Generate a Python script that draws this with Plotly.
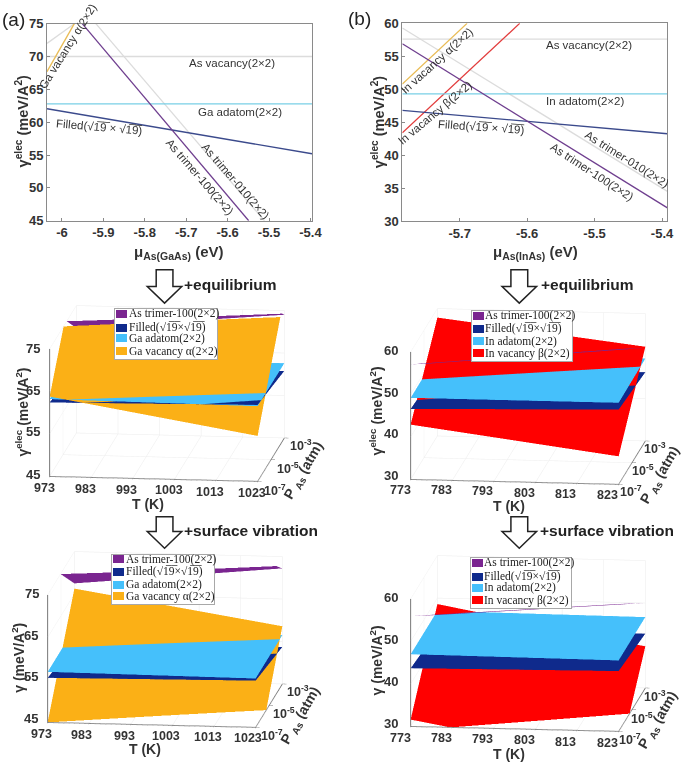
import plotly.graph_objects as go

W, H = 685, 769
# ---------- top line charts ----------
mu_a_gold = [-6.036, -5.97]; e_a_gold = [67.7, 75]
mu_a_g1 = [-6.036, -5.97]; e_a_g1 = [72, 75]
mu_a_trim100 = [-5.951, -5.549]; e_a_trim100 = [75, 45]
mu_a_trim010 = [-5.918, -5.511]; e_a_trim010 = [75, 45]
mu_a_span = [-6.036, -5.396]
e_a_vac = [70, 70]; e_a_adatom = [62.8, 62.8]; e_a_filled = [62.05, 55.2]

mu_b_gold = [-5.785, -5.689]; e_b_gold = [50.8, 60]
mu_b_red = [-5.785, -5.611]; e_b_red = [43.4, 60]
mu_b_span = [-5.785, -5.392]
e_b_trim010 = [59.3, 34.5]; e_b_trim100 = [56.9, 32]
e_b_vac = [57.6, 57.6]; e_b_adatom = [49.3, 49.3]; e_b_filled = [46.8, 43.25]

xt_a = [-6, -5.9, -5.8, -5.7, -5.6, -5.5, -5.4]
xl_a = ["-6", "-5.9", "-5.8", "-5.7", "-5.6", "-5.5", "-5.4"]
yt_a = [45, 50, 55, 60, 65, 70, 75]
xt_b = [-5.7, -5.6, -5.5, -5.4]
xl_b = ["-5.7", "-5.6", "-5.5", "-5.4"]
yt_b = [30, 35, 40, 45, 50, 55, 60]

# ---------- 3D planes: z = [[(Tmin,Pmin),(Tmax,Pmin)],[(Tmin,Pmax),(Tmax,Pmax)]] ----------
logP = [-7, -3]
T_a = [973, 1023]; T_b = [773, 823]
a1_purple = [[84.4, 88.0], [69.7, 74.0]]
a1_navy = [[62.4, 63.0], [60.3, 60.8]]
a1_sky = [[63.2, 62.7], [63.0, 62.6]]
a1_gold = [[63.8, 55.7], [85.3, 78.4]]
a2_purple = [[82.0, 85.0], [67.5, 72.2]]
a2_navy = [[55.5, 56.0], [53.2, 53.7]]
a2_sky = [[56.9, 56.5], [56.9, 56.5]]
a2_gold = [[45.0, 36.0], [66.3, 58.6]]
b1_purple = [[57.1, 61.9], [47.1, 51.9]]
b1_navy = [[46.6, 47.6], [45.5, 46.2]]
b1_sky = [[49.2, 49.2], [49.3, 49.4]]
b1_red = [[42.9, 36.6], [57.9, 52.2]]
b2_purple = [[56.0, 60.0], [46.0, 50.0]]
b2_navy = [[43.7, 44.2], [42.3, 42.8]]
b2_sky = [[47.0, 46.7], [47.0, 46.7]]
b2_red = [[31.6, 23.2], [48.6, 39.8]]

T_ticks_a = [973, 983, 993, 1003, 1013, 1023]
T_ticks_b = [773, 783, 793, 803, 813, 823]
P_ticks = [-7, -5, -3]
P_labels = ["10<sup>-7</sup>", "10<sup>-5</sup>", "10<sup>-3</sup>"]
z_ticks_a = [45, 55, 65, 75]
z_ticks_b = [30, 40, 50, 60]

C_PURPLE, C_NAVY, C_SKY, C_GOLD, C_RED = "#7a2590", "#0f2a8c", "#45c0fb", "#fbb016", "#ff0000"
ROOT = "\u221a1\u03059\u0305"
TXT = "#333333"
SANS = "Liberation Sans"
SERIF = "Liberation Serif"

fig = go.Figure()
ann = []
shapes = []


def px(x): return x / W
def py(y): return 1 - y / H


def text(x, y, s, size=11, bold=False, angle=0, color=TXT, family=SANS, anchor="center"):
    if bold:
        s = "<b>" + s + "</b>"
    ann.append(dict(x=px(x), y=py(y), xref="paper", yref="paper", text=s, showarrow=False,
                    font=dict(family=family, size=size, color=color), textangle=angle,
                    xanchor=anchor, yanchor="middle", borderpad=0, borderwidth=0))


def box(x0, y0, x1, y1, fill, border=None):
    ann.append(dict(x=px(x0), y=py(y0), xref="paper", yref="paper", text=" ", showarrow=False,
                    width=x1 - x0, height=y1 - y0, bgcolor=fill, xanchor="left", yanchor="top",
                    bordercolor=border or fill, borderwidth=1 if border else 0, borderpad=0,
                    font=dict(size=1)))


def line_trace(x, y, color, xa, ya, w=1.3):
    fig.add_trace(go.Scatter(x=x, y=y, mode="lines", line=dict(color=color, width=w),
                             xaxis=xa, yaxis=ya, showlegend=False, hoverinfo="skip"))


GREY, LB, NV, PU, GO, RD = "#dcdcdc", "#78cfe6", "#3b4a8c", "#6f3f8f", "#e9bc55", "#e23c3c"
for x, y, c in [(mu_a_span, e_a_vac, GREY), (mu_a_g1, e_a_g1, GREY), (mu_a_trim010, e_a_trim010, GREY),
                (mu_a_gold, e_a_gold, GO), (mu_a_span, e_a_adatom, LB), (mu_a_span, e_a_filled, NV),
                (mu_a_trim100, e_a_trim100, PU)]:
    line_trace(x, y, c, "x", "y")
for x, y, c in [(mu_b_span, e_b_vac, GREY), (mu_b_span, e_b_trim010, GREY), (mu_b_gold, e_b_gold, GO),
                (mu_b_red, e_b_red, RD), (mu_b_span, e_b_adatom, LB), (mu_b_span, e_b_filled, NV),
                (mu_b_span, e_b_trim100, PU)]:
    line_trace(x, y, c, "x2", "y2")

ax_common = dict(showgrid=False, zeroline=False, showline=True, linecolor="#8a8a8a", mirror=True, linewidth=1,
                 ticks="inside", ticklen=3, tickcolor="#8a8a8a",
                 tickfont=dict(family=SANS, size=13, color=TXT, weight="bold"))
layout = dict(
    xaxis=dict(domain=[px(47.7), px(316.7)], range=[-6.036, -5.396], tickvals=xt_a, ticktext=xl_a, anchor="y", **ax_common),
    yaxis=dict(domain=[py(218), py(17)], range=[45, 75], tickvals=yt_a, anchor="x", **ax_common),
    xaxis2=dict(domain=[px(408.3), px(677.3)], range=[-5.785, -5.392], tickvals=xt_b, ticktext=xl_b, anchor="y2", **ax_common),
    yaxis2=dict(domain=[py(218.3), py(16.7)], range=[30, 60], tickvals=yt_b, anchor="x2", **ax_common),
)


def surf(scene, T, z, color):
    fig.add_trace(go.Surface(x=T, y=logP, z=z, scene=scene, showscale=False, hoverinfo="skip",
                             colorscale=[[0, color], [1, color]], cmin=0, cmax=1, surfacecolor=[[0, 0], [0, 0]],
                             lighting=dict(ambient=1, diffuse=0, specular=0, fresnel=0, roughness=1),
                             contours=dict(x=dict(show=False), y=dict(show=False), z=dict(show=False))))


EYE = (0.118, -0.973, 0.197)
R = 1.07
K = 1.784 * 120 / 119
def scene_layout(cx, cy, T, zt, zr):
    half_w, half_h = 145, 119
    ax = dict(showbackground=False, showspikes=False, title=dict(text=""), showticklabels=False,
              gridcolor="#ececec", gridwidth=1, showline=True, linecolor="#777777", linewidth=2,
              ticks="outside", ticklen=4, tickcolor="#777777", tickwidth=1, zeroline=False, autorange=False)
    return dict(domain=dict(x=[px(cx - half_w), px(cx + half_w)], y=[py(cy + half_h), py(cy - half_h)]),
                aspectmode="manual", aspectratio=dict(x=1 * K, y=1.06 * K, z=0.62 * K),
                bgcolor="rgba(0,0,0,0)",
                camera=dict(eye=dict(x=EYE[0] * R, y=EYE[1] * R, z=EYE[2] * R), center=dict(x=0, y=0, z=0),
                            up=dict(x=0, y=0, z=1), projection=dict(type="orthographic")),
                xaxis=dict(range=[T[0], T[1]], tickvals=T, **ax),
                yaxis=dict(range=[-7, -3], tickvals=P_ticks, **ax),
                zaxis=dict(range=zr, tickvals=zt, **ax))


panels = [
    ("scene", 169, 394.5, T_a, T_ticks_a, z_ticks_a, [45, 75], [(a1_purple, C_PURPLE), (a1_navy, C_NAVY), (a1_sky, C_SKY), (a1_gold, C_GOLD)]),
    ("scene2", 535.5, 397, T_b, T_ticks_b, z_ticks_b, [30, 60], [(b1_purple, C_PURPLE), (b1_navy, C_NAVY), (b1_sky, C_SKY), (b1_red, C_RED)]),
    ("scene3", 167.5, 645, T_a, T_ticks_a, z_ticks_a, [45, 75], [(a2_purple, C_PURPLE), (a2_navy, C_NAVY), (a2_sky, C_SKY), (a2_gold, C_GOLD)]),
    ("scene4", 535.5, 649.5, T_b, T_ticks_b, z_ticks_b, [30, 60], [(b2_purple, C_PURPLE), (b2_navy, C_NAVY), (b2_sky, C_SKY), (b2_red, C_RED)]),
]
for name, cx, cy, T, Tt, zt, zr, planes in panels:
    for z, c in planes:
        surf(name, T, z, c)
    sl = scene_layout(cx, cy, T, zt, zr)
    sl["xaxis"]["tickvals"] = Tt
    layout[name] = sl

# ---------- text ----------
text(14, 13, "(a)", size=19, color="#222222")
text(365, 12, "(b)", size=19, color="#222222")


def ytitle(x, y, sup="elec", size=14):
    s = "<b>γ</b>" + (f"<sup><b>{sup}</b></sup>" if sup else "") + "<b> (meV/A<sup>2</sup>)</b>"
    text(x, y, s, size=size, angle=-90)


ytitle(22, 117, size=14.5)
ytitle(383, 117, size=14.5)
text(182, 250, "<b>μ</b><sub><b>As(GaAs)</b></sub><b> (eV)</b>", size=15)
text(543, 250, "<b>μ</b><sub><b>As(InAs)</b></sub><b> (eV)</b>", size=15)

L = 11.5
text(235, 57, "As vacancy(2×2)", L)
text(244, 107, "Ga adatom(2×2)", L)
text(101, 122, f"Filled({ROOT} × {ROOT})", L, angle=5)
text(69, 40, "Ga vacancy α(2×2)", L, angle=-58)
text(203, 173, "As trimer-100(2×2)", L, angle=49)
text(239, 177, "As trimer-010(2×2)", L, angle=49)
text(598, 39, "As vacancy(2×2)", L)
text(594, 96, "In adatom(2×2)", L)
text(489, 122, f"Filled({ROOT} × {ROOT})", L, angle=4)
text(443, 55, "In vacancy α(2×2)", L, angle=-42)
text(441, 108, "In vacancy β(2×2)", L, angle=-40)
text(636, 155, "As trimer-010(2×2)", L, angle=32)
text(601, 168, "As trimer-100(2×2)", L, angle=33)

# arrows
def arrow(cx, top, base, tip):
    p = [(cx - 8.5, top), (cx + 8.5, top), (cx + 8.5, base), (cx + 17.5, base), (cx, tip), (cx - 17.5, base), (cx - 8.5, base)]
    path = "M " + " L ".join(f"{px(a):.4f},{py(b):.4f}" for a, b in p) + " Z"
    shapes.append(dict(type="path", xref="paper", yref="paper", path=path, line=dict(color="#222222", width=1.5), fillcolor="white"))


arrow(167, 268, 285, 302); arrow(527, 268, 285, 302)
arrow(167, 520, 535, 552); arrow(527, 520, 535, 552)
text(187, 283, "+equilibrium", 15.5, True, color="#222222", anchor="left")
text(549, 283, "+equilibrium", 15.5, True, color="#222222", anchor="left")
text(187, 534, "+surface vibration", 15.5, True, color="#222222", anchor="left")
text(548, 534, "+surface vibration", 15.5, True, color="#222222", anchor="left")

# 3D tick labels and titles
def labels3d(zpos, Tpos, Ppos, Tt, zt, ttl, tk, pt):
    for (x, y), v in zip(zpos, zt):
        text(x, y, str(v), 13, True)
    for (x, y), v in zip(Tpos, Tt):
        text(x, y, str(v), 12.5, True)
    for (x, y), v in zip(Ppos, P_labels):
        text(x, y, v, 12.5, True)
    ytitle(*ttl)
    text(tk[0], tk[1], "T (K)", 14, True)
    text(pt[0], pt[1], "P <sub>As</sub> (atm)", 14, True, angle=-60)


labels3d([(33, 477), (33, 433), (33, 391), (33, 348)],
         [(45, 491), (87, 492), (128, 493), (171, 493), (213, 495), (256, 496)],
         [(279, 493), (292, 470), (305, 447)], T_ticks_a, z_ticks_a, (22, 413, "elec", 14), (150, 507), (308, 473))
labels3d([(31, 726), (31, 683), (31, 641), (32, 598)],
         [(42, 741), (83, 742), (126, 743), (168, 744), (211, 745), (252, 746)],
         [(276, 742), (288, 720), (302, 698)], T_ticks_a, z_ticks_a, (18, 664, "", 14), (147, 757), (305, 723))
labels3d([(397, 478), (397, 435), (397, 393), (397, 350)],
         [(406, 493), (448, 493), (490, 494), (532, 496), (574, 497), (617, 498)],
         [(640, 494), (653, 472), (665, 450)], T_ticks_b, z_ticks_b, (382, 412, "elec", 14), (517, 509), (670, 477))
labels3d([(397, 731), (397, 688), (397, 645), (397, 602)],
         [(406, 746), (448, 746), (490, 747), (532, 748), (574, 750), (617, 751)],
         [(639, 747), (652, 725), (665, 703)], T_ticks_b, z_ticks_b, (382, 666, "", 14), (517, 762), (668, 727))

# legends
def legend(x0, y0, x1, y1, swx, rows, names, colors, tx):
    box(x0, y0, x1, y1, "white", "#a8a8a8")
    for yy, n, c in zip(rows, names, colors):
        box(swx, yy - 4, swx + 11, yy + 4, c)
        text(tx, yy, n, 11.5, family=SERIF, color="#222222", anchor="left")


F = f"Filled({ROOT}×{ROOT})"
names_a = ["As trimer-100(2×2)", F, "Ga adatom(2×2)", "Ga vacancy α(2×2)"]
names_b = ["As trimer-100(2×2)", F, "In adatom(2×2)", "In vacancy β(2×2)"]
cols_a = [C_PURPLE, C_NAVY, C_SKY, C_GOLD]
cols_b = [C_PURPLE, C_NAVY, C_SKY, C_RED]
legend(116, 307, 218, 357, 118, [313, 327, 338, 351], names_a, cols_a, 131)
legend(478, 309, 578, 359, 480, [315, 328, 341, 353], names_b, cols_b, 492)
legend(113, 558, 215, 607, 115, [563, 576, 589, 601], names_a, cols_a, 128)
legend(477, 561, 577, 611, 479, [567, 581, 592, 605], names_b, cols_b, 491)

fig.update_layout(width=W, height=H, margin=dict(l=0, r=0, t=0, b=0), autosize=False,
                  paper_bgcolor="white", plot_bgcolor="white", showlegend=False,
                  annotations=ann, shapes=shapes, **layout)
fig.write_html("out.html", config=dict(displayModeBar=False),
               post_script="document.body.style.margin='0';document.documentElement.style.overflow='hidden';")
